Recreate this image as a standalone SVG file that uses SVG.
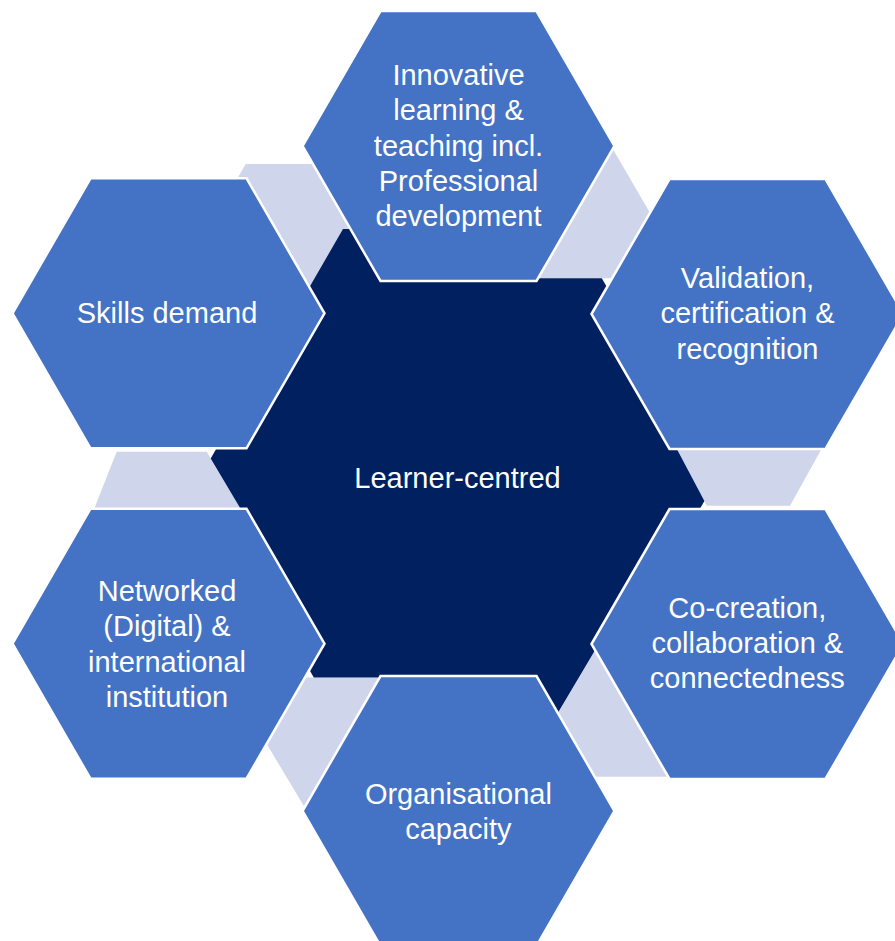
<svg xmlns="http://www.w3.org/2000/svg" width="895" height="941" viewBox="0 0 895 941">
  <style>
    .hex { fill: #4472C4; stroke: #FFFFFF; stroke-width: 2.5; stroke-linejoin: miter; }
    .core { fill: #002060; }
    .link { fill: #CFD5EA; }
    .label { font-family: "Liberation Sans", Arial, sans-serif; font-size: 29px; fill: #FFFFFF; text-anchor: middle; }
  </style>
  <rect width="895" height="941" fill="#FFFFFF"/>

  <!-- light filler shapes between neighbouring hexagons -->
  <g id="connectors">
    <polygon class="link" points="245.7,164 330,164 370,240 300,300 235,182.5"/>
    <polygon class="link" points="600,140 607.6,140 655,221.5 655,278.3 530,278.3"/>
    <polygon class="link" points="672.1,440 826.5,440 790,505.7 706.9,505.7"/>
    <polygon class="link" points="116.7,451.7 206.7,451.7 253.1,530 87.8,525"/>
    <polygon class="link" points="290,677.5 400,677.5 400,815 309.3,815 255,724.5"/>
    <polygon class="link" points="601.1,640 700,640 700,776.7 560,776.7 545.3,735"/>
  </g>

  <!-- central hexagon -->
  <g id="centre">
    <polygon class="core" points="343,229 550,229 537,278.3 601.8,278.3 695.1,440 672.1,440 704.4,501 635.8,620 601.1,640 557.7,713.2 550.8,725 390,725 390,677.5 313.8,677.5 289.3,635 247.2,520 210.7,458.4"/>
    <text class="label" x="457.5" y="488">Learner-centred</text>
  </g>

  <g id="innovative">
    <polygon class="hex" points="302.5,146 380.5,11 536.5,11 614.5,146 536.5,281 380.5,281"/>
    <text class="label" x="458.5" y="85">Innovative</text>
    <text class="label" x="458.5" y="120.3">learning &amp;</text>
    <text class="label" x="458.5" y="155.6">teaching incl.</text>
    <text class="label" x="458.5" y="190.9">Professional</text>
    <text class="label" x="458.5" y="226.2">development</text>
  </g>

  <g id="validation">
    <polygon class="hex" points="591.5,314 669.5,179 825.5,179 903.5,314 825.5,449 669.5,449"/>
    <text class="label" x="747.5" y="288">Validation,</text>
    <text class="label" x="747.5" y="323.3">certification &amp;</text>
    <text class="label" x="747.5" y="358.6">recognition</text>
  </g>

  <g id="co-creation">
    <polygon class="hex" points="591.5,644 669.5,509 825.5,509 903.5,644 825.5,779 669.5,779"/>
    <text class="label" x="747.3" y="617.7">Co-creation,</text>
    <text class="label" x="747.3" y="653">collaboration &amp;</text>
    <text class="label" x="747.3" y="688.3">connectedness</text>
  </g>

  <g id="organisational">
    <polygon class="hex" points="302.5,811 380.5,676 536.5,676 614.5,811 536.5,946 380.5,946"/>
    <text class="label" x="458.4" y="804">Organisational</text>
    <text class="label" x="458.4" y="839.3">capacity</text>
  </g>

  <g id="networked">
    <polygon class="hex" points="12.5,643.7 90.5,508.7 246.5,508.7 324.5,643.7 246.5,778.7 90.5,778.7"/>
    <text class="label" x="167" y="601">Networked</text>
    <text class="label" x="167" y="636.3">(Digital) &amp;</text>
    <text class="label" x="167" y="671.6">international</text>
    <text class="label" x="167" y="706.9">institution</text>
  </g>

  <g id="skills">
    <polygon class="hex" points="12.5,313.3 90.5,178.3 246.5,178.3 324.5,313.3 246.5,448.3 90.5,448.3"/>
    <text class="label" x="167" y="323.3">Skills demand</text>
  </g>
</svg>
